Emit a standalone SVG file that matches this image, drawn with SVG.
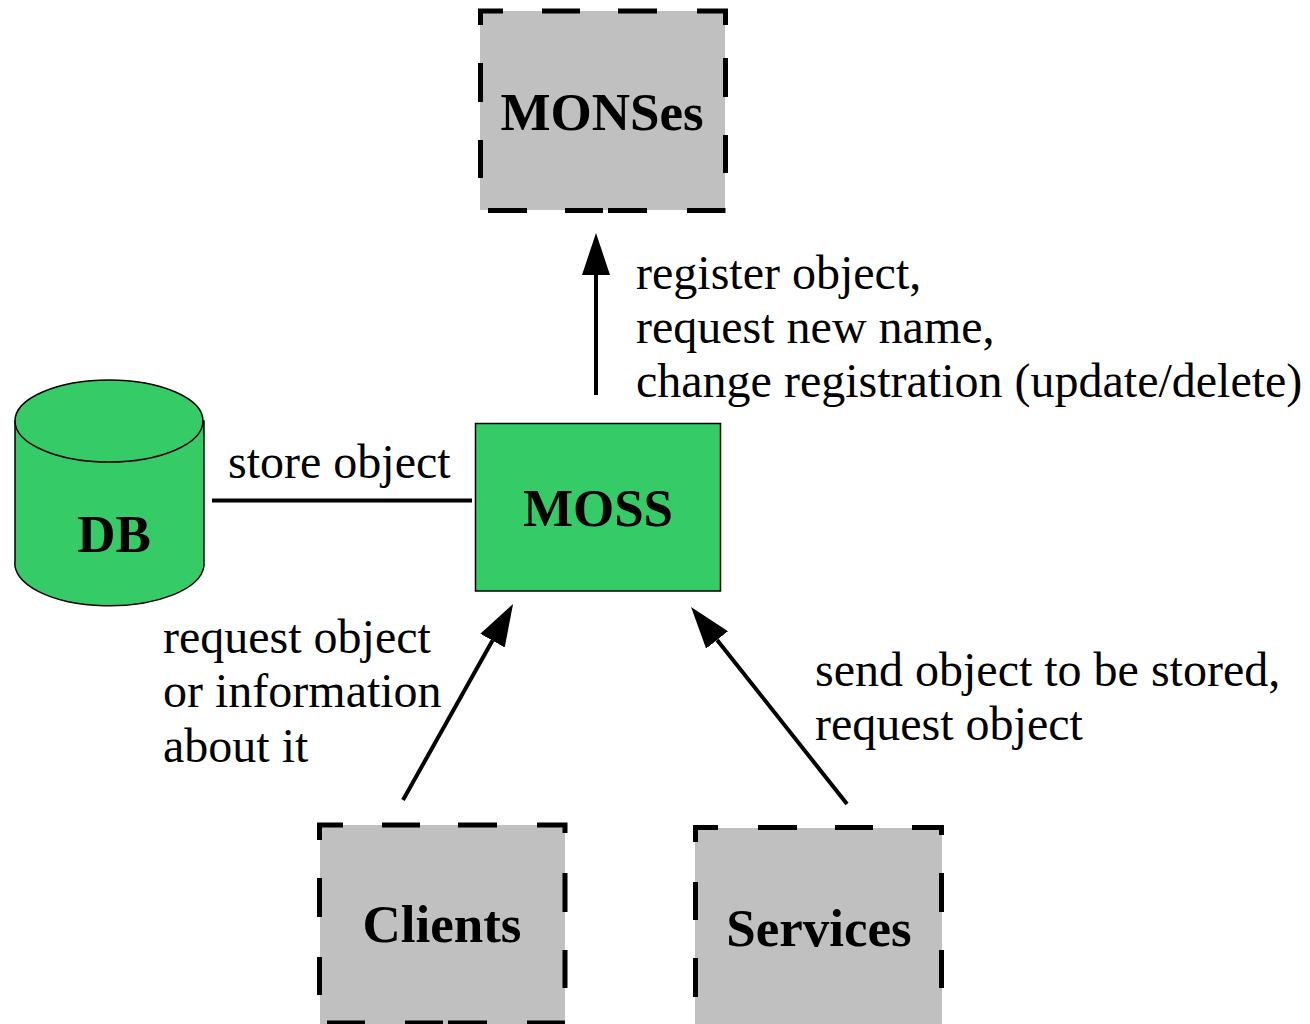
<svg xmlns="http://www.w3.org/2000/svg" width="1310" height="1024" viewBox="0 0 1310 1024">
<style>
.lbl{font-family:"Liberation Serif","Times New Roman",serif;font-size:48px;fill:#000}
.nt{font-family:"Liberation Serif","Times New Roman",serif;font-size:53px;font-weight:bold;fill:#000;text-anchor:middle}
.gray{fill:#c0c0c0;stroke:none}
.dash{fill:none;stroke:#000;stroke-width:5;stroke-linecap:butt;stroke-linejoin:miter}
.green{fill:#35cc67;stroke:#000;stroke-width:1.5}
.conn{fill:none;stroke:#000;stroke-width:4}
</style>
<defs>
<marker id="ah" markerUnits="userSpaceOnUse" viewBox="0 0 42 28" markerWidth="42" markerHeight="28" refX="0" refY="14" orient="auto">
<path d="M0,0 L42,14 L0,28 Z" fill="#000"/>
</marker>
</defs>
<rect width="1310" height="1024" fill="#fff"/>
<g id="connectors">
<line class="conn" x1="212" y1="500.5" x2="472" y2="500.5"/>
<line class="conn" x1="596" y1="395" x2="596" y2="275" marker-end="url(#ah)"/>
<line class="conn" x1="403" y1="800" x2="492.5" y2="640.6" marker-end="url(#ah)"/>
<line class="conn" x1="847" y1="804" x2="717.1" y2="639.9" marker-end="url(#ah)"/>
</g>
<g id="node-monses">
<rect class="gray" x="480" y="11" width="245" height="199"/>
<path class="dash" d="M480.5,25 V11 H503 M542,11 H580 M618,11 H657 M697,11 H725.5 V25 M725.5,58 V97 M725.5,135 V173 M488,210.5 H527 M565,210.5 H603 M608,210.5 H647 M687,210.5 H725.5 M480.5,63 V102 M480.5,140 V178"/>
<text class="nt" x="602" y="130">MONSes</text>
</g>
<g id="node-db">
<path class="green" d="M15,421 V561 A94,42 0 0 0 204,566 V421 Z"/>
<ellipse class="green" cx="109" cy="421" rx="94" ry="41"/>
<text class="nt" x="114" y="552">DB</text>
</g>
<g id="node-moss">
<rect class="green" x="475.5" y="423.5" width="245" height="167.5"/>
<text class="nt" x="598" y="526">MOSS</text>
</g>
<g id="node-clients">
<rect class="gray" x="320" y="825" width="245" height="199"/>
<path class="dash" d="M319.5,840 V825 H343 M382,825 H420 M458,825 H497 M537,825 H565 V833 M565,873 V912 M565,950 V988 M319.5,878 V917 M319.5,957 V995 M327,1023 H365 M405,1023 H443 M448,1023 H487 M527,1023 H565"/>
<text class="nt" x="442" y="942">Clients</text>
</g>
<g id="node-services">
<rect class="gray" x="695" y="828" width="247" height="196"/>
<path class="dash" d="M695.5,842 V827.5 H718 M758,827.5 H797 M835,827.5 H873 M912,827.5 H941.5 V835 M941.5,873 V912 M941.5,950 V988 M695.5,882 V920 M695.5,958 V997"/>
<text class="nt" x="819" y="946">Services</text>
</g>
<g id="labels">
<text class="lbl" x="636" y="289">register object,</text>
<text class="lbl" x="636" y="343">request new name,</text>
<text class="lbl" x="636" y="397">change registration (update/delete)</text>
<text class="lbl" x="228" y="478">store object</text>
<text class="lbl" x="163" y="653">request object</text>
<text class="lbl" x="163" y="707">or information</text>
<text class="lbl" x="163" y="762">about it</text>
<text class="lbl" x="815" y="686">send object to be stored,</text>
<text class="lbl" x="815" y="740">request object</text>
</g>
</svg>
